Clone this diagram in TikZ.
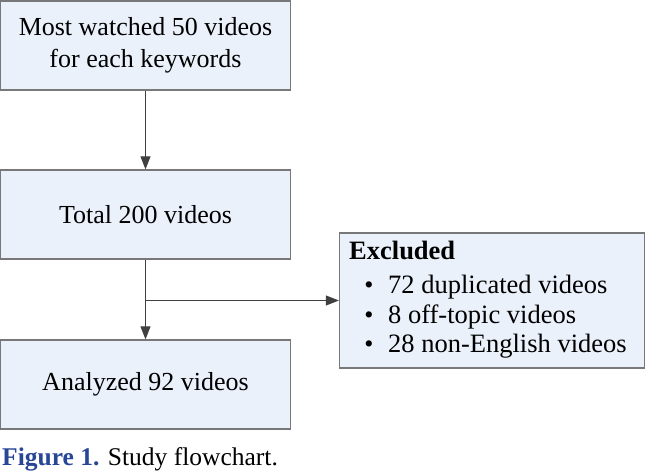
\documentclass[tikz,border=0pt]{standalone}
\usepackage{fontspec}
\setmainfont{Liberation Serif}
\usetikzlibrary{arrows.meta}
\definecolor{boxfill}{RGB}{235,241,250}
\definecolor{boxline}{RGB}{120,120,120}
\definecolor{capblue}{RGB}{40,70,150}
\begin{document}
\begin{tikzpicture}[x=1pt,y=-1pt,
  box/.style={draw=boxline,fill=boxfill,line width=1.3pt,inner sep=0pt,
    minimum width=#1,align=center,font=\fontsize{26}{32}\selectfont},
  conn/.style={draw=black!75,line width=1pt,-{Triangle[length=13pt,width=10pt]}},
  txt/.style={anchor=base west,inner sep=0pt,font=\fontsize{26.5}{30}\selectfont},
  bul/.style={anchor=base,inner sep=0pt,font=\fontsize{26}{30}\selectfont}]
\useasboundingbox (0,0) rectangle (646,473);
\node[box=290pt,minimum height=89pt] (b1) at (145.5,45.5) {Most watched 50 videos\\for each keywords};
\node[box=290pt,minimum height=89pt] (b2) at (145.5,214.5) {Total 200 videos};
\node[box=290pt,minimum height=89pt] (b3) at (145.5,384.5) {Analyzed 92 videos};
\node[box=305pt,minimum height=135pt] (ex) at (492,300.5) {};
\node[txt,font=\fontsize{26.5}{30}\selectfont\bfseries] (exh) at (349,260) {Excluded};
\node[bul] (d1) at (369,294) {\textbullet};
\node[txt] (t1) at (388,294) {72 duplicated videos};
\node[bul] (d2) at (369,324) {\textbullet};
\node[txt] (t2) at (388,324) {8 off-topic videos};
\node[bul] (d3) at (369,353) {\textbullet};
\node[txt] (t3) at (388,353) {28 non-English videos};
\coordinate (br) at (145.5,300.5);
\draw[conn] (b1) -- (b2);
\draw[conn] (b2) -- (b3);
\draw[conn] (br) -- (ex.west);
\node[txt,font=\fontsize{25.5}{30}\selectfont] (cap) at (2,465) {\textcolor{capblue}{\bfseries Figure 1.} Study flowchart.};
\end{tikzpicture}
\end{document}
